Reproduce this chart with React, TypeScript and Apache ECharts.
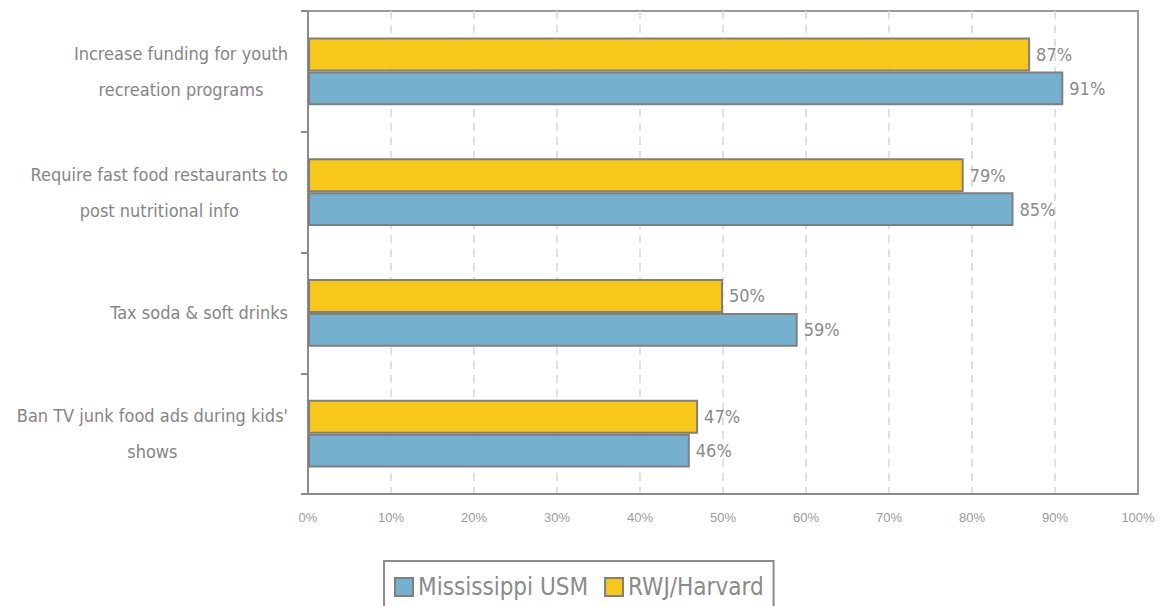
import React, { useEffect, useRef } from "react";
import * as echarts from "echarts";

// Top-to-bottom order as shown in the chart
const categories = [
  "Increase funding for youth\nrecreation programs",
  "Require fast food restaurants to\npost nutritional info",
  "Tax soda & soft drinks",
  "Ban TV junk food ads during kids'\nshows",
];
const mississippiUSM = [91, 85, 59, 46];
const rwjHarvard = [87, 79, 50, 47];
const xTicks = [0, 10, 20, 30, 40, 50, 60, 70, 80, 90, 100];

const NARROW = "'Liberation Sans Narrow', 'Arial Narrow', 'DejaVu Sans Condensed', sans-serif";

export default function App() {
  const ref = useRef<HTMLDivElement>(null);
  useEffect(() => {
    if (!ref.current) return;
    const chart = echarts.init(ref.current, undefined, { renderer: "svg" });
    const cats = [...categories].reverse();
    const ms = [...mississippiUSM].reverse();
    const rwj = [...rwjHarvard].reverse();
    const labelStyle = {
      show: true,
      position: "right" as const,
      distance: 6,
      formatter: "{c}%",
      color: "#8a8a8a",
      fontSize: 18,
      fontFamily: NARROW,
    };
    chart.setOption({
      animation: false,
      backgroundColor: "#ffffff",
      grid: {
        left: 308,
        right: 22,
        top: 11,
        bottom: 112,
        show: true,
        borderColor: "#9a9a9a",
        borderWidth: 2,
        containLabel: false,
      },
      legend: {
        left: 384,
        top: 561,
        padding: [14, 10, 14, 10],
        borderColor: "#8c8c8c",
        borderWidth: 2,
        itemWidth: 18,
        itemHeight: 18,
        itemGap: 16,
        icon: "rect",
        textStyle: { color: "#8a8a8a", fontSize: 24, fontFamily: NARROW },
        data: ["Mississippi USM", "RWJ/Harvard"],
      },
      xAxis: {
        type: "value",
        min: 0,
        max: 100,
        interval: 10,
        axisLine: { show: true, lineStyle: { color: "#8c8c8c", width: 2 } },
        axisTick: { show: false },
        axisLabel: {
          formatter: (v: number) => (xTicks.includes(v) ? `${v}%` : ""),
          color: "#9a9a9a",
          fontSize: 13,
          margin: 17,
          fontFamily: "'Liberation Sans', Arial, sans-serif",
        },
        splitLine: {
          show: true,
          showMinLine: false,
          showMaxLine: false,
          lineStyle: { color: "#d6d6d6", type: [8, 6], width: 1.5 },
        },
      },
      yAxis: {
        type: "category",
        data: cats,
        axisLine: { show: true, lineStyle: { color: "#8c8c8c", width: 2 } },
        axisTick: { show: true, length: 7, lineStyle: { color: "#8c8c8c", width: 2 } },
        axisLabel: {
          margin: 20,
          formatter: (v: string) =>
            v
              .split("\n")
              .map((l) => `{c|${l}}`)
              .join("\n"),
          rich: {
            c: {
              align: "center",
              color: "#858585",
              fontSize: 18,
              lineHeight: 36,
              fontFamily: NARROW,
            },
          },
        },
      },
      series: [
        {
          name: "RWJ/Harvard",
          type: "bar",
          data: rwj,
          barGap: "0%",
          barCategoryGap: "44%",
          itemStyle: { color: "#f7c719", borderColor: "#7f7f7f", borderWidth: 2 },
          label: labelStyle,
        },
        {
          name: "Mississippi USM",
          type: "bar",
          data: ms,
          barGap: "0%",
          barCategoryGap: "44%",
          itemStyle: { color: "#76b0cf", borderColor: "#7f7f7f", borderWidth: 2 },
          label: labelStyle,
        },
      ],
    });
    return () => chart.dispose();
  }, []);
  return (
    <div
      ref={ref}
      style={{ position: "fixed", left: 0, top: 0, width: 1160, height: 606 }}
    />
  );
}
